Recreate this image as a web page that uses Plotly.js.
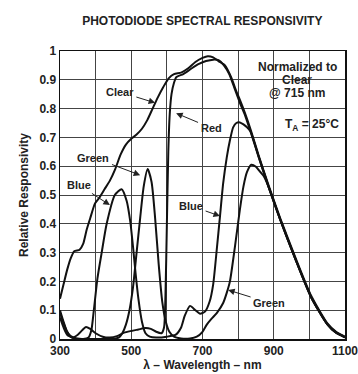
<!DOCTYPE html>
<html>
<head>
<meta charset="utf-8">
<script src="https://cdn.plot.ly/plotly-3.0.1.min.js"></script>
<style>
  html, body { margin: 0; padding: 0; background: #fff; }
  #chart { width: 358px; height: 374px; }
</style>
</head>
<body>
<div id="chart"></div>
<script>
// Wavelength (nm) and relative responsivity for each photodiode
const clearNm  = [300,310,320,330,340,355,365,375,385,398,410,425,440,455,470,485,500,515,530,545,560,575,590,605,620,640,660,680,700,715,730,745,763,780,795,805,819,835,857,885,918,960,1005,1050,1075,1100];
const clearVal = [0.14,0.19,0.24,0.28,0.305,0.31,0.33,0.38,0.42,0.47,0.49,0.52,0.55,0.59,0.64,0.675,0.695,0.71,0.73,0.76,0.80,0.84,0.875,0.905,0.92,0.925,0.94,0.962,0.976,0.982,0.978,0.965,0.95,0.91,0.86,0.83,0.785,0.727,0.64,0.535,0.42,0.285,0.15,0.055,0.025,0.008];

const redNm  = [300,310,320,335,350,362,373,385,400,420,440,460,480,500,520,540,555,570,585,592,596,600,604,608,613,620,627,646,670,690,710,730,745,760,775,790,805,820,835,857,885,918,960,1005,1050,1075,1100];
const redVal = [0.075,0.04,0.015,0.005,0.015,0.03,0.042,0.035,0.02,0.008,0.005,0.01,0.022,0.028,0.033,0.038,0.035,0.025,0.02,0.04,0.15,0.4,0.65,0.78,0.85,0.89,0.91,0.92,0.94,0.955,0.965,0.97,0.968,0.95,0.92,0.87,0.82,0.775,0.72,0.635,0.53,0.415,0.28,0.145,0.052,0.022,0.006];

const greenNm  = [300,310,320,330,345,370,400,440,465,475,485,495,505,515,525,535,546,557,567,577,587,597,607,620,640,665,684,700,712,725,740,758,768,777,791,805,815,825,837,850,862,872,885,918,960,1005,1050,1075,1100];
const greenVal = [0.09,0.055,0.025,0.01,0.003,0.0,0.0,0.0,0.005,0.02,0.05,0.1,0.18,0.3,0.42,0.53,0.59,0.545,0.42,0.26,0.13,0.06,0.025,0.008,0.002,0.002,0.008,0.025,0.05,0.07,0.09,0.125,0.16,0.2,0.32,0.45,0.53,0.58,0.605,0.598,0.58,0.565,0.53,0.415,0.28,0.145,0.052,0.022,0.006];

const blueNm  = [300,310,320,330,345,365,380,388,395,405,417,431,454,473,487,497,505,512,520,530,540,552,570,600,625,640,650,665,680,693,707,720,730,740,749,758,768,777,786,795,805,815,825,835,857,885,918,960,1005,1050,1075,1100];
const blueVal = [0.1,0.06,0.025,0.008,0.0,0.0,0.005,0.03,0.1,0.21,0.3,0.4,0.5,0.52,0.48,0.41,0.32,0.23,0.14,0.06,0.02,0.008,0.005,0.008,0.015,0.04,0.08,0.115,0.1,0.088,0.095,0.13,0.19,0.31,0.425,0.54,0.63,0.69,0.735,0.75,0.752,0.745,0.735,0.72,0.635,0.53,0.415,0.28,0.145,0.052,0.022,0.006];

const xTickVals = [300,400,500,600,700,800,900,1000,1100];
const xTickText = ['300','','500','','700','','900','','1100'];
const yTickVals = [0,0.1,0.2,0.3,0.4,0.5,0.6,0.7,0.8,0.9,1];
const yTickText = ['0','0.1','0.2','0.3','0.4','0.5','0.6','0.7','0.8','0.9','1'];

const FONT = 'Liberation Sans, Arial, Helvetica, sans-serif';
const lineStyle = {color: '#111', width: 2, shape: 'spline', smoothing: 0.6};

const traces = [
  {x: clearNm, y: clearVal, name: 'Clear'},
  {x: redNm, y: redVal, name: 'Red'},
  {x: greenNm, y: greenVal, name: 'Green'},
  {x: blueNm, y: blueVal, name: 'Blue'}
].map(t => Object.assign(t, {type: 'scatter', mode: 'lines', line: lineStyle, hoverinfo: 'skip'}));

const lab = {family: FONT, size: 11, color: '#222', weight: 'bold'};
function label(text, x, y, size) {
  return {text: text, x: x, y: y, xref: 'x', yref: 'y', showarrow: false,
          font: Object.assign({}, lab, {size: size || 11}), xanchor: 'center', yanchor: 'middle'};
}
// text centred at (tx, ty), arrow pointing to (hx, hy)
function pointer(text, tx, ty, hx, hy) {
  return {text: text, x: hx, y: hy, ax: tx, ay: ty, xref: 'x', yref: 'y', axref: 'x', ayref: 'y',
          font: lab, borderpad: 2,
          showarrow: true, arrowhead: 2, arrowsize: 1.3, arrowwidth: 1, arrowcolor: '#222'};
}

const layout = {
  width: 358, height: 374,
  margin: {l: 60, r: 13, t: 51, b: 35},
  paper_bgcolor: '#fff', plot_bgcolor: '#fff',
  showlegend: false,
  title: {text: 'PHOTODIODE SPECTRAL RESPONSIVITY', x: 0.565, xanchor: 'center', y: 0.945, yanchor: 'middle',
          font: {family: FONT, size: 12, color: '#222', weight: 'bold'}},
  xaxis: {range: [300, 1100], tickvals: xTickVals, ticktext: xTickText, ticks: '',
          ticklabeloverflow: 'allow',
          showgrid: true, gridcolor: '#444', gridwidth: 1, zeroline: false,
          showline: true, linecolor: '#111', linewidth: 1.5, mirror: true,
          tickfont: {family: FONT, size: 12, color: '#222', weight: 'bold'},
          title: {text: 'λ – Wavelength – nm', standoff: 2, font: {family: FONT, size: 12, color: '#222', weight: 'bold'}}},
  yaxis: {range: [0, 1], tickvals: yTickVals, ticktext: yTickText, ticks: '',
          showgrid: true, gridcolor: '#444', gridwidth: 1, zeroline: false,
          showline: true, linecolor: '#111', linewidth: 1.5, mirror: true,
          tickfont: {family: FONT, size: 12, color: '#222', weight: 'bold'},
          title: {text: 'Relative Responsivity', standoff: 8, font: {family: FONT, size: 12, color: '#222', weight: 'bold'}}},
  annotations: [
    pointer('Clear', 468, 0.858, 567, 0.82),
    pointer('Red', 724, 0.733, 626, 0.784),
    pointer('Green', 394, 0.63, 525, 0.569),
    pointer('Blue', 353, 0.535, 440, 0.465),
    pointer('Blue', 668, 0.462, 749, 0.427),
    pointer('Green', 887, 0.126, 772, 0.17),
    label('Normalized to', 966, 0.945, 12),
    label('Clear', 966, 0.9, 12),
    label('@ 715 nm', 966, 0.855, 12),
    label('T<sub>A</sub> = 25°C', 1008, 0.743, 12)
  ]
};

Plotly.newPlot('chart', traces, layout, {staticPlot: true, displayModeBar: false});
</script>
</body>
</html>
